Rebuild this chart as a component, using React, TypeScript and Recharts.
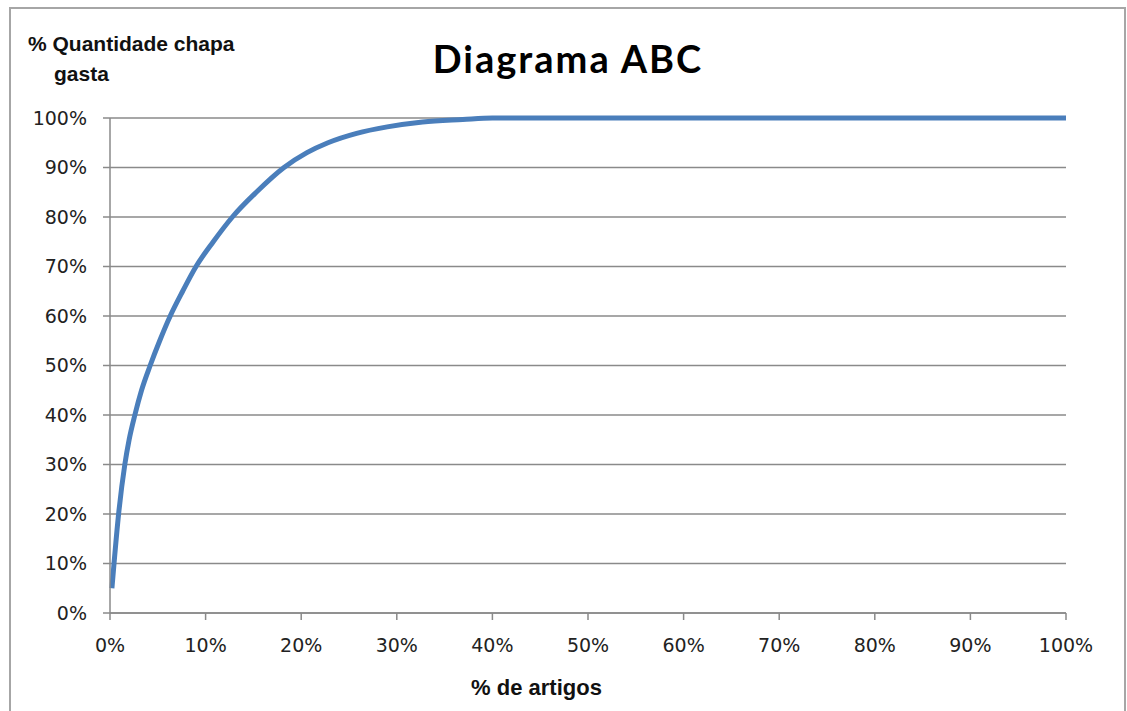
import { LineChart, Line, XAxis, YAxis, CartesianGrid } from 'recharts'

// % de artigos (x) against cumulative % de chapa gasta (y)
const articlePct = [0.2, 0.42, 0.9, 1.55, 2.0, 2.6, 3.3, 4.2, 5.2, 6.3, 7.6, 9.0, 10.8, 12.8, 15.3, 18.2, 20.6, 22.8, 25.8, 29, 32.7, 36.9, 40, 50, 60, 70, 80, 90, 100]
const usagePct = [5, 10, 20, 30, 35, 40, 45, 50, 55, 60, 65, 70, 75, 80, 85, 90, 93, 95, 96.9, 98.2, 99.2, 99.7, 100, 100, 100, 100, 100, 100, 100]
const xTicks = [0, 10, 20, 30, 40, 50, 60, 70, 80, 90, 100]
const yTicks = [0, 10, 20, 30, 40, 50, 60, 70, 80, 90, 100]

const data = articlePct.map((x, i) => ({ x, y: usagePct[i] }))

const GRAY = '#8a8a8a'
const TICK_STYLE = { fontFamily: 'DejaVu Sans, Verdana, sans-serif', fontSize: 19, fill: '#222' }
const LABEL_FONT = 'Liberation Sans, Arial, sans-serif'

export default function App() {
  return (
    <div style={{ position: 'absolute', left: 0, top: 0, width: 1127, height: 711, background: '#fff', overflow: 'hidden' }}>
      <div
        style={{
          position: 'absolute',
          left: 9,
          top: 7,
          width: 1113,
          height: 740,
          border: '2px solid #a6a6a6',
        }}
      />
      <div
        style={{
          position: 'absolute',
          left: 0,
          top: 35,
          width: 1136,
          textAlign: 'center',
          fontFamily: 'Lato, Open Sans, sans-serif',
          fontWeight: 700,
          fontSize: 38,
          letterSpacing: 2,
          color: '#000',
          lineHeight: '46px',
        }}
      >
        Diagrama ABC
      </div>
      <div
        style={{
          position: 'absolute',
          left: 28,
          top: 29,
          fontFamily: LABEL_FONT,
          fontWeight: 700,
          fontSize: 21,
          lineHeight: '30px',
          color: '#111',
        }}
      >
        % Quantidade chapa
        <div style={{ paddingLeft: 26 }}>gasta</div>
      </div>
      <div
        style={{
          position: 'absolute',
          left: 0,
          top: 675,
          width: 1073,
          textAlign: 'center',
          fontFamily: LABEL_FONT,
          fontWeight: 700,
          fontSize: 22,
          color: '#111',
        }}
      >
        % de artigos
      </div>
      <div style={{ position: 'absolute', left: 0, top: 0 }}>
        <LineChart width={1127} height={711} data={data} margin={{ top: 118, right: 61, bottom: 0, left: 0 }}>
          <CartesianGrid vertical={false} stroke={GRAY} strokeWidth={1.5} />
          <XAxis
            dataKey="x"
            type="number"
            domain={[0, 100]}
            ticks={xTicks}
            tickFormatter={(v) => `${v}%`}
            height={98}
            tickSize={7}
            tickMargin={19}
            stroke={GRAY}
            strokeWidth={1.5}
            tick={TICK_STYLE}
            interval={0}
          />
          <YAxis
            type="number"
            domain={[0, 100]}
            ticks={yTicks}
            tickFormatter={(v) => `${v}%`}
            width={110}
            tickSize={7}
            tickMargin={16}
            stroke={GRAY}
            strokeWidth={1.5}
            tick={TICK_STYLE}
            interval={0}
          />
          <Line
            dataKey="y"
            type="monotone"
            stroke="#4a7ebb"
            strokeWidth={5}
            dot={false}
            isAnimationActive={false}
          />
        </LineChart>
      </div>
    </div>
  )
}
